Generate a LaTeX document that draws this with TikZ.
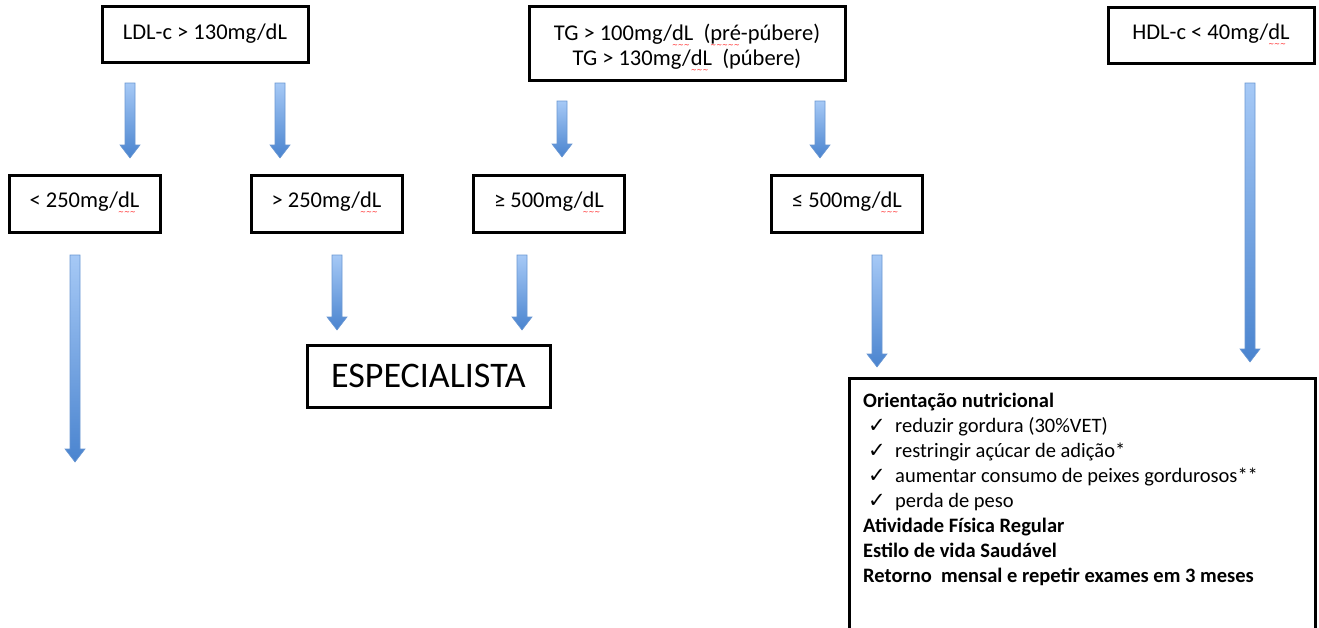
\documentclass[tikz,border=0pt]{standalone}
\usepackage{fontspec}
\setmainfont{Carlito}
\newfontfamily\chkfont{DejaVu Sans}
\usetikzlibrary{calc}
\definecolor{arrtop}{HTML}{A6C9F6}
\definecolor{arrbot}{HTML}{4A84CF}
\definecolor{arredge}{HTML}{6A97D2}
\newcommand{\sq}[1]{\setbox0\hbox{#1}\rlap{\raisebox{-7pt}{\hbox to \wd0{\color{red}\chkfont\fontsize{7pt}{7pt}\selectfont\leaders\hbox{∼}\hfil}}}#1}
\newcommand{\chk}{\makebox[27pt][l]{\chkfont\fontsize{21pt}{22pt}\selectfont ✓}}
\newcommand{\barrow}[2]{%
  \shade[arrowshade] ($(#1)+(-5pt,0)$) -- ($(#1)+(5pt,0)$) -- ($(#2)+(5pt,13pt)$) -- ($(#2)+(10pt,13pt)$) -- (#2) -- ($(#2)+(-10pt,13pt)$) -- ($(#2)+(-5pt,13pt)$) -- cycle;}
\tikzset{
  box/.style={draw=black, line width=3pt, rectangle, inner sep=0pt, font=\fontsize{22.5pt}{26pt}\selectfont, align=center},
  arrowshade/.style={top color=arrtop, bottom color=arrbot, draw=arredge, line width=0.6pt},
  txt/.style={inner sep=0pt, align=left, font=\fontsize{20.5pt}{25pt}\selectfont}
}
\begin{document}
\begin{tikzpicture}[x=1pt,y=-1pt]
\useasboundingbox (0,0) rectangle (1319,627);
% boxes
\node[box, minimum width=206pt, minimum height=56pt] (ldl) at (205,34) {LDL-c > 130mg/dL};
\node[box, minimum width=316pt, minimum height=74pt] (tg) at (687,43) {\raisebox{-5pt}[\height][\depth]{\begin{tabular}{@{}c@{}}TG > 100mg/\sq{dL}\ \ (\sq{pré}-púbere)\\[-1pt]TG > 130mg/\sq{dL}\ \ (púbere)\end{tabular}}};
\node[box, minimum width=206pt, minimum height=56pt] (hdl) at (1211,35) {HDL-c < 40mg/\sq{dL}};
\node[box, minimum width=151pt, minimum height=57pt] (lt250) at (84.5,203.5) {< 250mg/\sq{dL}};
\node[box, minimum width=151pt, minimum height=57pt] (gt250) at (326.5,203.5) {> 250mg/\sq{dL}};
\node[box, minimum width=151pt, minimum height=57pt] (ge500) at (549,203.5) {≥ 500mg/\sq{dL}};
\node[box, minimum width=151pt, minimum height=57pt] (le500) at (847,203.5) {≤ 500mg/\sq{dL}};
\node[box, minimum width=243pt, minimum height=62pt, font=\fontsize{36pt}{40pt}\selectfont] (esp) at (428.5,376) {ESPECIALISTA};
\node[box, minimum width=466pt, minimum height=290pt, anchor=north west] (ori) at (848,377) {};
\node[txt, anchor=north west] (oritxt) at ($(ori.north west)+(15pt,-16pt)$) {%
\textbf{Orientação nutricional}\\
\hspace*{5pt}\chk reduzir gordura (30\%VET)\\
\hspace*{5pt}\chk restringir açúcar de adição*\\
\hspace*{5pt}\chk aumentar consumo de peixes gordurosos**\\
\hspace*{5pt}\chk perda de peso\\
\textbf{Atividade Física Regular}\\
\textbf{Estilo de vida Saudável}\\
\textbf{Retorno\ \ mensal e repetir exames em 3 meses}};
% arrow coordinates
\coordinate (a1s) at (130,83);  \coordinate (a1e) at (130,158);
\coordinate (a2s) at (280,83);  \coordinate (a2e) at (280,158);
\coordinate (a3s) at (562,101); \coordinate (a3e) at (562,157);
\coordinate (a4s) at (820,101); \coordinate (a4e) at (820,158);
\coordinate (a5s) at (1250,83); \coordinate (a5e) at (1250,362);
\coordinate (a6s) at (75,255);  \coordinate (a6e) at (75,462);
\coordinate (a7s) at (337,255); \coordinate (a7e) at (337,330);
\coordinate (a8s) at (522,255); \coordinate (a8e) at (522,330);
\coordinate (a9s) at (877,255); \coordinate (a9e) at (877,367);
\barrow{a1s}{a1e}
\barrow{a2s}{a2e}
\barrow{a3s}{a3e}
\barrow{a4s}{a4e}
\barrow{a5s}{a5e}
\barrow{a6s}{a6e}
\barrow{a7s}{a7e}
\barrow{a8s}{a8e}
\barrow{a9s}{a9e}
\end{tikzpicture}
\end{document}
